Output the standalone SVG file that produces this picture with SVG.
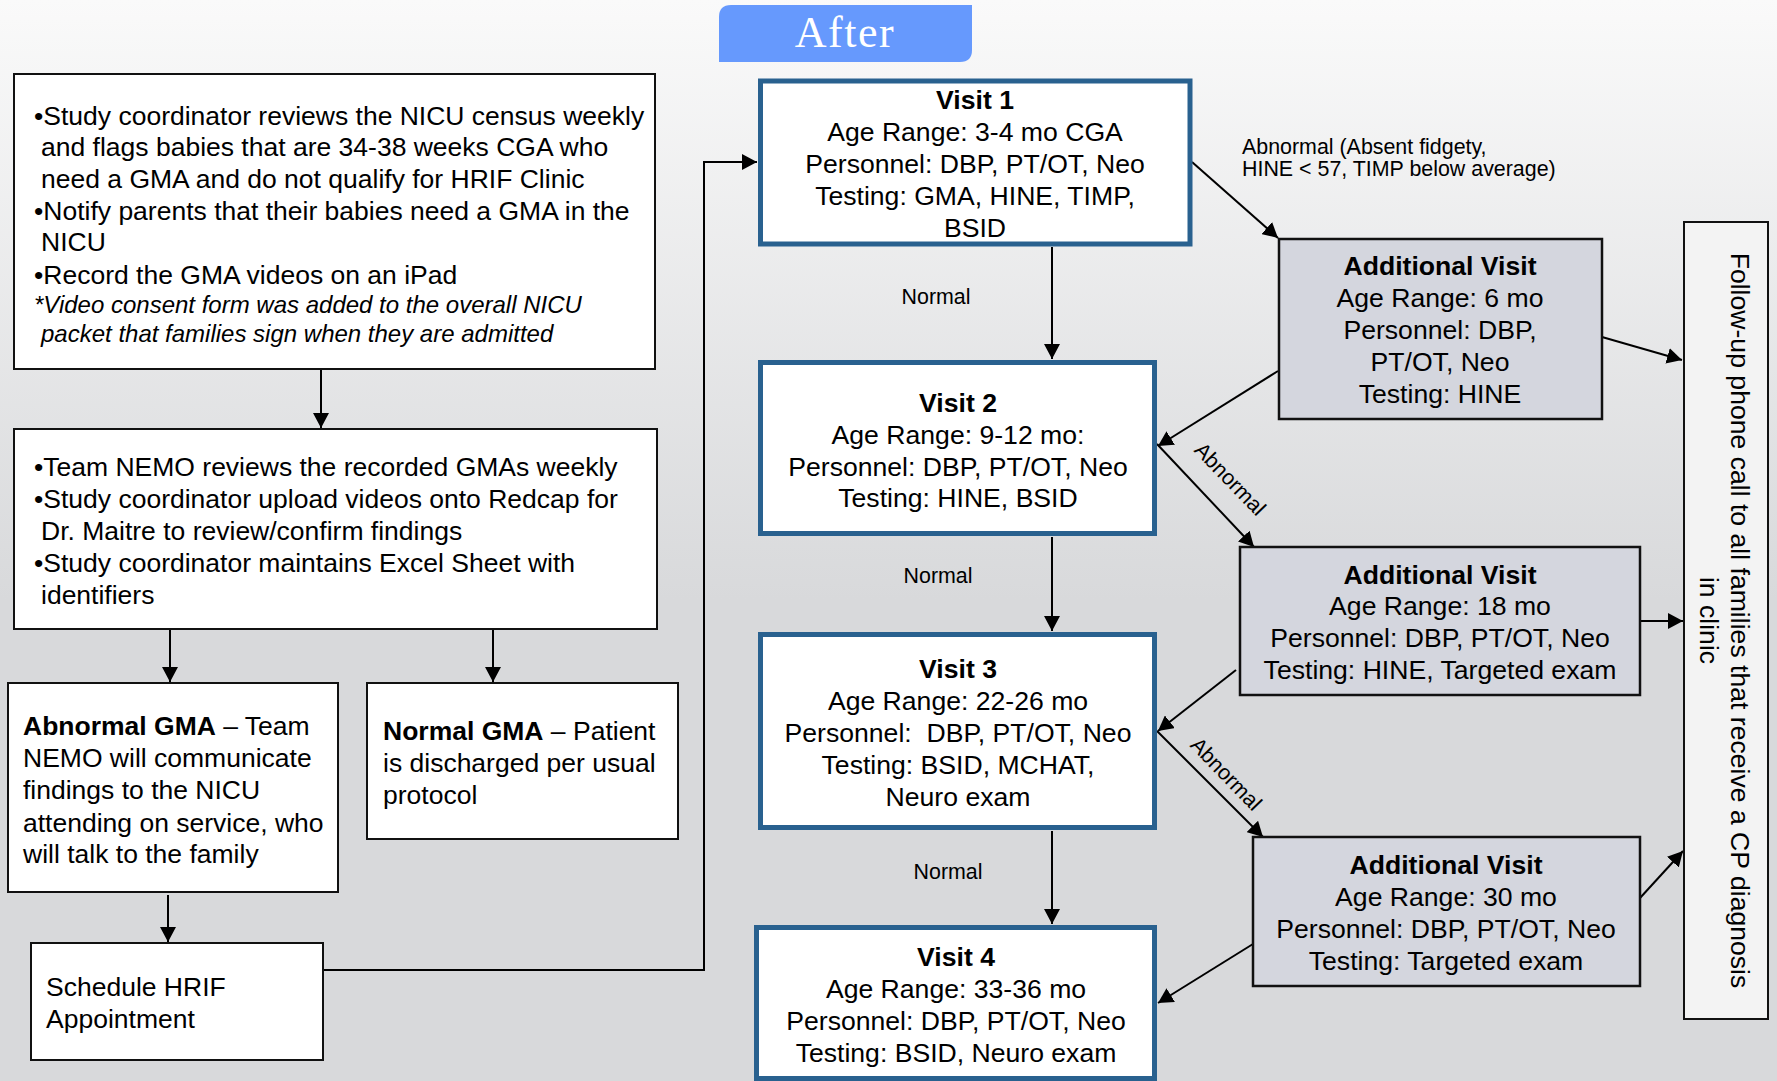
<svg xmlns="http://www.w3.org/2000/svg" width="1777" height="1081" viewBox="0 0 1777 1081">
<defs>
<linearGradient id="bg" gradientUnits="userSpaceOnUse" x1="0" y1="0" x2="0" y2="600">
<stop offset="0" stop-color="#fafafa"/>
<stop offset="1" stop-color="#d8d9db"/>
</linearGradient>
<marker id="arr" markerUnits="userSpaceOnUse" viewBox="0 0 15 16" refX="15" refY="8" markerWidth="15" markerHeight="16" orient="auto">
<path d="M0,0 L15,8 L0,16 z" fill="#000"/>
</marker>
<style>
text{font-family:"Liberation Sans",Arial,sans-serif;fill:#000}
.t{font-size:26.5px}
.c{font-size:26.6px;text-anchor:middle}
.b{font-weight:bold}
.it{font-size:24px;font-style:italic}
.lbl{font-size:21.4px}
.lblc{font-size:21.4px;text-anchor:middle}
.wbox{fill:#fff;stroke:#111;stroke-width:2}
.vbox{fill:#fff;stroke:#29618f;stroke-width:5}
.abox{fill:#d4d6de;stroke:#111;stroke-width:2.5}
.fbox{fill:#f3f3f3;stroke:#111;stroke-width:2}
.ln{fill:none;stroke:#000;stroke-width:2}
.ar{fill:none;stroke:#000;stroke-width:2;marker-end:url(#arr)}
</style>
</defs>
<rect x="0" y="0" width="1777" height="1081" fill="url(#bg)"/>

<g id="after-tab">
<path d="M731,5 H972 V50 Q972,62 960,62 H719 V17 Q719,5 731,5 z" fill="#6699fd"/>
<text x="845" y="47" text-anchor="middle" style="font-family:'Liberation Serif','Times New Roman',serif;font-size:44px;fill:#fff;letter-spacing:1.5px">After</text>
</g>

<g id="connectors">
<line class="ar" x1="321" y1="370" x2="321" y2="428"/>
<line class="ar" x1="170" y1="630" x2="170" y2="682"/>
<line class="ar" x1="493" y1="630" x2="493" y2="682"/>
<line class="ar" x1="168" y1="895" x2="168" y2="942"/>
<polyline class="ar" points="323,970 704,970 704,162 757,162"/>
<line class="ar" x1="1052" y1="247" x2="1052" y2="359"/>
<line class="ar" x1="1052" y1="537" x2="1052" y2="631"/>
<line class="ar" x1="1052" y1="831" x2="1052" y2="924"/>
<line class="ar" x1="1192" y1="162" x2="1278" y2="238"/>
<line class="ar" x1="1278" y1="371" x2="1158" y2="446"/>
<line class="ar" x1="1157" y1="444" x2="1254" y2="547"/>
<line class="ar" x1="1236" y1="670" x2="1158" y2="731"/>
<line class="ar" x1="1157" y1="731" x2="1263" y2="837"/>
<line class="ar" x1="1253" y1="944" x2="1158" y2="1003"/>
<line class="ar" x1="1602" y1="337" x2="1682" y2="360"/>
<line class="ar" x1="1640" y1="621" x2="1683" y2="621"/>
<line class="ar" x1="1640" y1="898" x2="1683" y2="851"/>
<text class="lblc" x="936" y="304">Normal</text>
<text class="lblc" x="938" y="583">Normal</text>
<text class="lblc" x="948" y="879">Normal</text>
<text class="lbl" x="1242" y="154">Abnormal (Absent fidgety,</text>
<text class="lbl" x="1242" y="176">HINE &lt; 57, TIMP below average)</text>
<text class="lblc" transform="translate(1225,484) rotate(46)">Abnormal</text>
<text class="lblc" transform="translate(1221,779) rotate(46)">Abnormal</text>
</g>

<g id="nicu-census">
<rect class="wbox" x="14" y="74" width="641" height="295"/>
<text class="t" x="34" y="125">•Study coordinator reviews the NICU census weekly</text>
<text class="t" x="41" y="156">and flags babies that are 34-38 weeks CGA who</text>
<text class="t" x="41" y="188">need a GMA and do not qualify for HRIF Clinic</text>
<text class="t" x="34" y="220">•Notify parents that their babies need a GMA in the</text>
<text class="t" x="41" y="251">NICU</text>
<text class="t" x="34" y="284">•Record the GMA videos on an iPad</text>
<text class="it" x="34" y="313">*Video consent form was added to the overall NICU</text>
<text class="it" x="41" y="342">packet that families sign when they are admitted</text>
</g>

<g id="team-nemo">
<rect class="wbox" x="14" y="429" width="643" height="200"/>
<text class="t" x="34" y="476">•Team NEMO reviews the recorded GMAs weekly</text>
<text class="t" x="34" y="508">•Study coordinator upload videos onto Redcap for</text>
<text class="t" x="41" y="540">Dr. Maitre to review/confirm findings</text>
<text class="t" x="34" y="572">•Study coordinator maintains Excel Sheet with</text>
<text class="t" x="41" y="604">identifiers</text>
</g>

<g id="abnormal-gma">
<rect class="wbox" x="8" y="683" width="330" height="209"/>
<text class="t" x="23" y="735"><tspan class="b">Abnormal GMA</tspan> – Team</text>
<text class="t" x="23" y="767">NEMO will communicate</text>
<text class="t" x="23" y="799">findings to the NICU</text>
<text class="t" x="23" y="832">attending on service, who</text>
<text class="t" x="23" y="863">will talk to the family</text>
</g>

<g id="normal-gma">
<rect class="wbox" x="367" y="683" width="311" height="156"/>
<text class="t" x="383" y="740"><tspan class="b">Normal GMA</tspan> – Patient</text>
<text class="t" x="383" y="772">is discharged per usual</text>
<text class="t" x="383" y="804">protocol</text>
</g>

<g id="schedule-hrif">
<rect class="wbox" x="31" y="943" width="292" height="117"/>
<text class="t" x="46" y="996">Schedule HRIF</text>
<text class="t" x="46" y="1028">Appointment</text>
</g>

<g id="visit-1">
<rect class="vbox" x="760.5" y="81" width="429.5" height="163"/>
<text class="c b" x="975" y="109">Visit 1</text>
<text class="c" x="975" y="141">Age Range: 3-4 mo CGA</text>
<text class="c" x="975" y="173">Personnel: DBP, PT/OT, Neo</text>
<text class="c" x="975" y="205">Testing: GMA, HINE, TIMP,</text>
<text class="c" x="975" y="237">BSID</text>
</g>

<g id="visit-2">
<rect class="vbox" x="760.5" y="362.5" width="394" height="171"/>
<text class="c b" x="958" y="412">Visit 2</text>
<text class="c" x="958" y="444">Age Range: 9-12 mo:</text>
<text class="c" x="958" y="476">Personnel: DBP, PT/OT, Neo</text>
<text class="c" x="958" y="507">Testing: HINE, BSID</text>
</g>

<g id="visit-3">
<rect class="vbox" x="760.5" y="634.5" width="394" height="193"/>
<text class="c b" x="958" y="678">Visit 3</text>
<text class="c" x="958" y="710">Age Range: 22-26 mo</text>
<text class="c" x="958" y="742" xml:space="preserve">Personnel:  DBP, PT/OT, Neo</text>
<text class="c" x="958" y="774">Testing: BSID, MCHAT,</text>
<text class="c" x="958" y="806">Neuro exam</text>
</g>

<g id="visit-4">
<rect class="vbox" x="756.5" y="927.5" width="398" height="151"/>
<text class="c b" x="956" y="966">Visit 4</text>
<text class="c" x="956" y="998">Age Range: 33-36 mo</text>
<text class="c" x="956" y="1030">Personnel: DBP, PT/OT, Neo</text>
<text class="c" x="956" y="1062">Testing: BSID, Neuro exam</text>
</g>

<g id="additional-6mo">
<rect class="abox" x="1279" y="239" width="323" height="180"/>
<text class="c b" x="1440" y="275">Additional Visit</text>
<text class="c" x="1440" y="307">Age Range: 6 mo</text>
<text class="c" x="1440" y="339">Personnel: DBP,</text>
<text class="c" x="1440" y="371">PT/OT, Neo</text>
<text class="c" x="1440" y="403">Testing: HINE</text>
</g>

<g id="additional-18mo">
<rect class="abox" x="1240" y="547" width="400" height="148"/>
<text class="c b" x="1440" y="584">Additional Visit</text>
<text class="c" x="1440" y="615">Age Range: 18 mo</text>
<text class="c" x="1440" y="647">Personnel: DBP, PT/OT, Neo</text>
<text class="c" x="1440" y="679">Testing: HINE, Targeted exam</text>
</g>

<g id="additional-30mo">
<rect class="abox" x="1253" y="837" width="387" height="149"/>
<text class="c b" x="1446" y="874">Additional Visit</text>
<text class="c" x="1446" y="906">Age Range: 30 mo</text>
<text class="c" x="1446" y="938">Personnel: DBP, PT/OT, Neo</text>
<text class="c" x="1446" y="970">Testing: Targeted exam</text>
</g>

<g id="follow-up">
<rect class="fbox" x="1684" y="222" width="84" height="797"/>
<text class="c" transform="translate(1731,620.5) rotate(90)">Follow-up phone call to all families that receive a CP diagnosis</text>
<text class="c" transform="translate(1699.5,620.5) rotate(90)">in clinic</text>
</g>
</svg>
